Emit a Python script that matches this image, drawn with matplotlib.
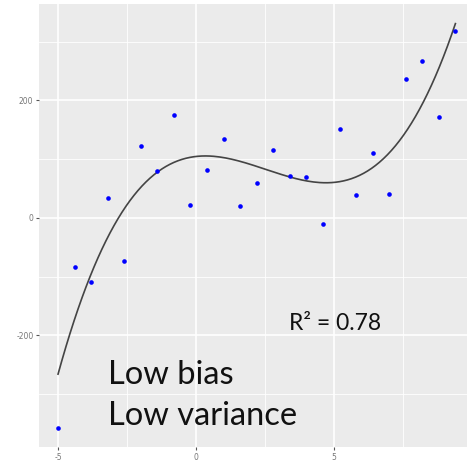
import numpy as np
import matplotlib
matplotlib.use("Agg")
import matplotlib.pyplot as plt

plt.rcParams["axes.unicode_minus"] = False

x_vals = [-5.0, -4.4, -3.8, -3.2, -2.6, -2.0, -1.4, -0.8, -0.2, 0.4, 1.0, 1.6,
          2.2, 2.8, 3.4, 4.0, 4.6, 5.2, 5.8, 6.4, 7.0, 7.6, 8.2, 8.8, 9.4]
y_vals = [-357, -83, -109, 34, -73, 123, 80, 175, 22, 82, 134, 20,
          60, 116, 71, 70, -10, 151, 39, 111, 41, 237, 267, 172, 318]
x_ticks = [-5, 0, 5]
y_ticks = [-200, 0, 200]
x_minor = [-2.5, 2.5, 7.5]
y_minor = [-300, -100, 100, 300]

fig = plt.figure(figsize=(4.67, 4.68), dpi=100)
ax = fig.add_axes([39/467, 21/468, 1 - 39/467, 443/468])
ax.set_facecolor("#EBEBEB")
for s in ax.spines.values():
    s.set_visible(False)

ax.set_xticks(x_ticks)
ax.set_yticks(y_ticks)
ax.set_xticks(x_minor, minor=True)
ax.set_yticks(y_minor, minor=True)
ax.grid(which="major", color="white", linewidth=1.2)
ax.grid(which="minor", color="white", linewidth=0.6)
ax.set_axisbelow(True)
ax.tick_params(which="major", length=2.5, color="#555555", labelsize=5.5,
               labelcolor="#777777", pad=1.5)
ax.tick_params(which="minor", length=0)

coef = np.polyfit(x_vals, y_vals, 3)
xs = np.linspace(min(x_vals), max(x_vals), 200)
ax.plot(xs, np.polyval(coef, xs), color="#444444", linewidth=1.2, zorder=2)
ax.scatter(x_vals, y_vals, color="#0000FF", s=11, zorder=3, linewidths=0)

ax.set_xlim(-5.69, 9.82)
ax.set_ylim(-390, 364)

ax.text(3.38, -180, "R² = 0.78", fontsize=16.5, family="Lato",
        va="center", ha="left", color="#111111")
ax.text(-3.2, -268, "Low bias", fontsize=23.5, family="Lato", va="center",
        ha="left", color="#111111")
ax.text(-3.2, -338, "Low variance", fontsize=23.5, family="Lato", va="center",
        ha="left", color="#111111")

fig.savefig("out.png", dpi=100)
